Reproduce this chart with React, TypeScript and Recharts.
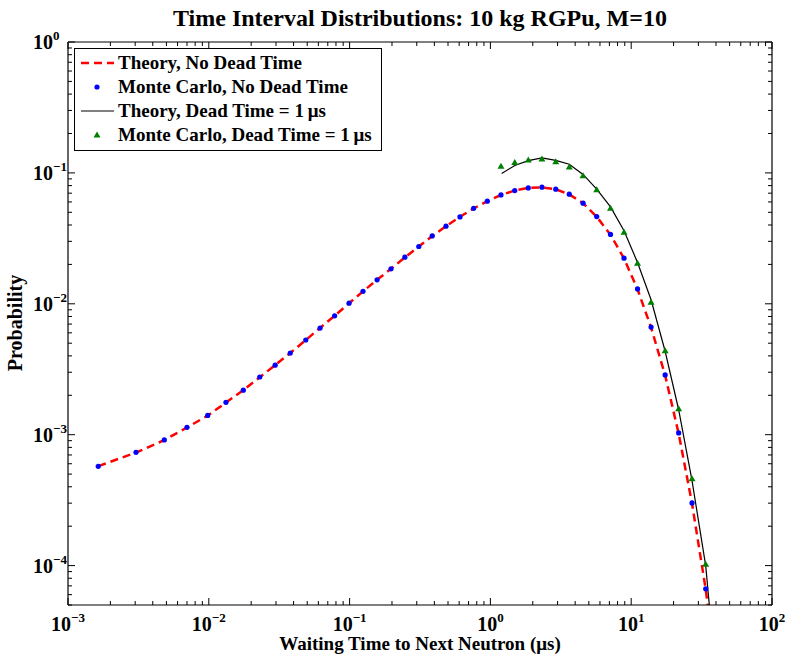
import { ComposedChart, Line, Scatter, XAxis, YAxis, Legend } from 'recharts'

// waiting times (µs) of the Monte Carlo bins, no dead time
const waitTimes = [
  0.00164, 0.00304, 0.00483, 0.0070, 0.00982, 0.01324, 0.01758, 0.0230, 0.0296, 0.0379,
  0.0488, 0.0617, 0.0783, 0.0991, 0.1245, 0.1567, 0.1968, 0.247, 0.310, 0.386,
  0.484, 0.608, 0.760, 0.951, 1.189, 1.489, 1.858, 2.323, 2.911, 3.631,
  4.550, 5.689, 7.129, 8.892, 11.09, 13.84, 17.42, 21.73, 27.04, 33.81,
]
const mcNoDead = [
  5.73e-4, 7.33e-4, 9.12e-4, 1.138e-3, 1.404e-3, 1.766e-3, 2.19e-3, 2.76e-3, 3.40e-3, 4.20e-3,
  5.29e-3, 6.53e-3, 8.10e-3, 1.011e-2, 1.245e-2, 1.525e-2, 1.849e-2, 2.27e-2, 2.74e-2, 3.30e-2,
  3.92e-2, 4.61e-2, 5.36e-2, 6.08e-2, 6.79e-2, 7.33e-2, 7.68e-2, 7.78e-2, 7.51e-2, 6.88e-2,
  5.87e-2, 4.64e-2, 3.39e-2, 2.23e-2, 1.30e-2, 6.64e-3, 2.86e-3, 1.031e-3, 3.01e-4, 6.65e-5,
]
// theory curve runs on past the last bin, off the bottom of the axes
const theoryTimes = [...waitTimes, 42.3]
const theoryNoDead = [
  5.75e-4, 7.30e-4, 9.10e-4, 1.135e-3, 1.40e-3, 1.76e-3, 2.19e-3, 2.75e-3, 3.40e-3, 4.21e-3,
  5.28e-3, 6.54e-3, 8.10e-3, 1.010e-2, 1.245e-2, 1.525e-2, 1.85e-2, 2.26e-2, 2.74e-2, 3.29e-2,
  3.92e-2, 4.62e-2, 5.35e-2, 6.08e-2, 6.78e-2, 7.33e-2, 7.68e-2, 7.76e-2, 7.50e-2, 6.86e-2,
  5.87e-2, 4.62e-2, 3.37e-2, 2.22e-2, 1.29e-2, 6.60e-3, 2.84e-3, 1.02e-3, 2.98e-4, 6.6e-5, 1.02e-5,
]

// dead time = 1 µs
const deadTimes = [
  1.189, 1.489, 1.858, 2.323, 2.911, 3.631, 4.550, 5.689, 7.129, 8.892,
  11.09, 13.84, 17.42, 21.73, 27.04, 33.81,
]
const mcDead = [
  0.1122, 0.1199, 0.1257, 0.1279, 0.1219, 0.1111, 0.0949, 0.0742, 0.0537, 0.0352,
  0.0204, 0.01026, 4.38e-3, 1.578e-3, 4.61e-4, 1.026e-4,
]
const theoryDeadTimes = [1.202, ...deadTimes.slice(1), 42.3]
const theoryDead = [
  0.0988, 0.1140, 0.1240, 0.1302, 0.1245, 0.1165, 0.0974, 0.0751, 0.0550, 0.0361,
  0.0207, 0.01073, 4.34e-3, 1.551e-3, 4.45e-4, 1.0e-4, 7.4e-6,
]

const majorX = [1e-3, 1e-2, 1e-1, 1, 10, 100]
const majorY = [1e-4, 1e-3, 1e-2, 1e-1, 1]
const expLabels: Record<number, string> = { '-4': '\u22124', '-3': '\u22123', '-2': '\u22122', '-1': '\u22121', 0: '0', 1: '1', 2: '2' }

const FONT = '"Liberation Serif", "Times New Roman", serif'

function withMinors(majors: number[], lo: number) {
  const out: number[] = []
  const first = majors[0] / 10
  for (const m of [first, ...majors]) {
    for (let k = 1; k <= 9; k++) {
      const v = +(m * k).toPrecision(6)
      if (v >= lo && v <= majors[majors.length - 1]) out.push(v)
    }
  }
  return Array.from(new Set(out)).sort((a, b) => a - b)
}
const xTicks = withMinors(majorX, 1e-3)
const yTicks = withMinors(majorY, 5e-5)

const pts = (xs: number[], ys: number[]) => xs.map((x, i) => ({ x, y: ys[i] }))
const theoryNoDeadData = pts(theoryTimes, theoryNoDead)
const mcNoDeadData = pts(waitTimes, mcNoDead)
const theoryDeadData = pts(theoryDeadTimes, theoryDead)
const mcDeadData = pts(deadTimes, mcDead)

function isMajor(v: number) {
  const e = Math.round(Math.log10(v))
  return Math.abs(v - Math.pow(10, e)) / v < 1e-6 ? e : null
}

type TickProps = { x?: number; y?: number; payload?: { value: number } }

function Pow({ e }: { e: number }) {
  return (
    <>
      10<tspan dy={-9} fontSize={13}>{expLabels[e]}</tspan>
    </>
  )
}

function BottomTick({ x = 0, y = 0, payload }: TickProps) {
  const e = isMajor(payload!.value)
  return (
    <g>
      <line x1={x} y1={y} x2={x} y2={y - (e !== null ? 7 : 4)} stroke="#000" />
      {e !== null && (
        <text x={x} y={y + 26} textAnchor="middle" fontFamily={FONT} fontWeight="bold" fontSize={20} fill="#000">
          <Pow e={e} />
        </text>
      )}
    </g>
  )
}

function TopTick({ x = 0, y = 0, payload }: TickProps) {
  const e = isMajor(payload!.value)
  return <line x1={x} y1={y} x2={x} y2={y + (e !== null ? 7 : 4)} stroke="#000" />
}

function LeftTick({ x = 0, y = 0, payload }: TickProps) {
  const e = isMajor(payload!.value)
  return (
    <g>
      <line x1={x} y1={y} x2={x + (e !== null ? 7 : 4)} y2={y} stroke="#000" />
      {e !== null && (
        <text x={x - 35} y={y + 7} textAnchor="start" fontFamily={FONT} fontWeight="bold" fontSize={20} fill="#000">
          <Pow e={e} />
        </text>
      )}
    </g>
  )
}

function RightTick({ x = 0, y = 0, payload }: TickProps) {
  const e = isMajor(payload!.value)
  return <line x1={x} y1={y} x2={x - (e !== null ? 7 : 4)} y2={y} stroke="#000" />
}

function Triangle({ cx = 0, cy = 0 }: { cx?: number; cy?: number }) {
  return <polygon points={`${cx},${cy - 3.5} ${cx - 3.5},${cy + 2.5} ${cx + 3.5},${cy + 2.5}`} fill="#008000" />
}

function Dot({ cx = 0, cy = 0 }: { cx?: number; cy?: number }) {
  return <circle cx={cx} cy={cy} r={2.6} fill="#0000ff" />
}

const legendRows = [
  { label: 'Theory, No Dead Time', kind: 'dash' },
  { label: 'Monte Carlo, No Dead Time', kind: 'dot' },
  { label: 'Theory, Dead Time = 1\u2009\u03bcs', kind: 'line' },
  { label: 'Monte Carlo, Dead Time = 1\u2009\u03bcs', kind: 'tri' },
]

function LegendBox() {
  return (
    <div style={{ border: '1px solid #000', background: '#fff', width: 306, height: 99, paddingTop: 2, boxSizing: 'content-box' }}>
      {legendRows.map((r) => (
        <div key={r.label} style={{ display: 'flex', alignItems: 'center', height: 24 }}>
          <svg width={43} height={12} style={{ flex: 'none' }}>
            {r.kind === 'dash' && <line x1={6} y1={6} x2={39} y2={6} stroke="#ff0000" strokeWidth={2.5} strokeDasharray="8 5" />}
            {r.kind === 'line' && <line x1={6} y1={6} x2={39} y2={6} stroke="#000" strokeWidth={1.2} />}
            {r.kind === 'dot' && <circle cx={22} cy={6} r={2.6} fill="#0000ff" />}
            {r.kind === 'tri' && <Triangle cx={22} cy={6} />}
          </svg>
          <span style={{ fontFamily: FONT, fontWeight: 'bold', fontSize: 19, color: '#000', whiteSpace: 'nowrap' }}>
            {r.label}
          </span>
        </div>
      ))}
    </div>
  )
}

export default function App() {
  return (
    <div style={{ position: 'fixed', left: 0, top: 0, width: 786, height: 655, background: '#fff' }}>
      <ComposedChart width={786} height={655} margin={{ top: 41, right: 13, bottom: 10, left: 8 }}>
        <XAxis
          xAxisId="b" dataKey="x" type="number" scale="log" domain={[1e-3, 100]} allowDataOverflow
          ticks={xTicks} interval={0} tick={<BottomTick />} tickLine={false} tickSize={0} tickMargin={0}
          height={40} axisLine={{ stroke: '#000', strokeWidth: 1.2 }}
        />
        <XAxis
          xAxisId="t" orientation="top" dataKey="x" type="number" scale="log" domain={[1e-3, 100]} allowDataOverflow
          ticks={xTicks} interval={0} tick={<TopTick />} tickLine={false} tickSize={0} tickMargin={0}
          height={1} axisLine={{ stroke: '#000', strokeWidth: 1.2 }}
        />
        <YAxis
          yAxisId="l" dataKey="y" type="number" scale="log" domain={[5e-5, 1]} allowDataOverflow
          ticks={yTicks} interval={0} tick={<LeftTick />} tickLine={false} tickSize={0} tickMargin={0}
          width={60} axisLine={{ stroke: '#000', strokeWidth: 1.2 }}
        />
        <YAxis
          yAxisId="r" orientation="right" dataKey="y" type="number" scale="log" domain={[5e-5, 1]} allowDataOverflow
          ticks={yTicks} interval={0} tick={<RightTick />} tickLine={false} tickSize={0} tickMargin={0}
          width={1} axisLine={{ stroke: '#000', strokeWidth: 1.2 }}
        />
        <Line
          xAxisId="b" yAxisId="l" data={theoryNoDeadData} dataKey="y" stroke="#ff0000" strokeWidth={2.5}
          strokeDasharray="8 5" dot={false} isAnimationActive={false} type="linear"
        />
        <Line
          xAxisId="b" yAxisId="l" data={theoryDeadData} dataKey="y" stroke="#000" strokeWidth={1.2}
          dot={false} isAnimationActive={false} type="linear"
        />
        <Scatter xAxisId="b" yAxisId="l" data={mcNoDeadData} dataKey="y" shape={<Dot />} isAnimationActive={false} />
        <Scatter xAxisId="b" yAxisId="l" data={mcDeadData} dataKey="y" shape={<Triangle />} isAnimationActive={false} />
        <Legend
          layout="vertical" align="center" verticalAlign="middle" content={() => <LegendBox />}
          wrapperStyle={{ position: 'absolute', left: 74, top: 48, width: 'auto', height: 'auto' }}
        />
        <text x={420} y={26} textAnchor="middle" fontFamily={FONT} fontWeight="bold" fontSize={24} fill="#000">
          Time Interval Distributions: 10 kg RGPu, M=10
        </text>
        <text x={420} y={650} textAnchor="middle" fontFamily={FONT} fontWeight="bold" fontSize={19} fill="#000">
          Waiting Time to Next Neutron (μs)
        </text>
        <text
          x={22} y={323} textAnchor="middle" fontFamily={FONT} fontWeight="bold" fontSize={20} fill="#000"
          transform="rotate(-90 22 323)"
        >
          Probability
        </text>
      </ComposedChart>
    </div>
  )
}
